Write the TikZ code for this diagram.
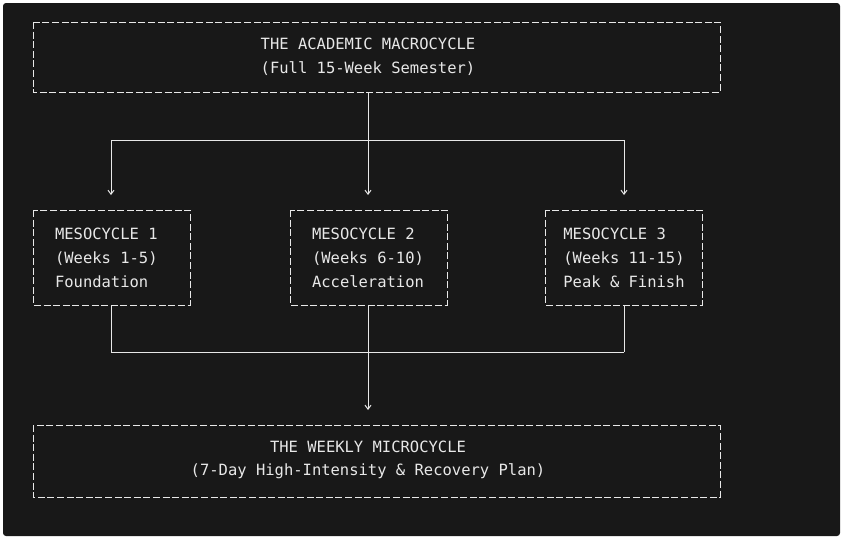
\documentclass[tikz,border=0pt]{standalone}
\usepackage{fontspec}
\setmonofont{DejaVu Sans Mono}
\usetikzlibrary{arrows.meta,positioning}
\definecolor{bg}{HTML}{181818}
\definecolor{ink}{HTML}{E8E8E8}
\tikzset{
  asciibox/.style={draw=ink, line width=1pt, dash pattern=on 7pt off 2.6pt, inner sep=0pt},
  txt/.style={text=ink, font=\ttfamily\fontsize{15.5pt}{23.8pt}\selectfont, align=center, inner sep=0pt},
  link/.style={draw=ink, line width=1pt},
  arr/.style={link, -{Straight Barb[length=4pt,width=6pt]}},
}
\begin{document}
\begin{tikzpicture}[x=1pt,y=-1pt]
\useasboundingbox (0,0) rectangle (844,538);
\fill[white] (0,0) rectangle (844,538);
\fill[bg, rounded corners=3pt] (3,3) rectangle (840,536);
% boxes
\draw[asciibox] (33,22) rectangle (720,92);
\node[txt] (macro) at (368,57) {THE ACADEMIC MACROCYCLE\\(Full 15-Week Semester)};
\draw[asciibox] (33,210) rectangle (190,305);
\node[txt, align=left] (meso1) at (111,258) {MESOCYCLE 1\\(Weeks 1-5)\\Foundation\phantom{xx}};
\draw[asciibox] (290,210) rectangle (447,305);
\node[txt, align=left] (meso2) at (368,258) {MESOCYCLE 2\\(Weeks 6-10)\\Acceleration};
\draw[asciibox] (545,210) rectangle (702,305);
\node[txt, align=left] (meso3) at (624,258) {MESOCYCLE 3\\(Weeks 11-15)\\Peak \& Finish};
\draw[asciibox] (33,425) rectangle (720,497);
\node[txt] (micro) at (368,460) {THE WEEKLY MICROCYCLE\\(7-Day High-Intensity \& Recovery Plan)};
% coordinates
\coordinate (topout) at (368,92);
\coordinate (split) at (368,140);
\coordinate (splitL) at (111,140);
\coordinate (splitR) at (624,140);
\coordinate (in1) at (111,195);
\coordinate (in2) at (368,195);
\coordinate (in3) at (624,195);
\coordinate (out1) at (111,305);
\coordinate (out2) at (368,305);
\coordinate (out3) at (624,305);
\coordinate (joinL) at (111,352);
\coordinate (join) at (368,352);
\coordinate (joinR) at (624,352);
\coordinate (botin) at (368,410);
% arrows
\draw[link] (topout) -- (split);
\draw[link] (splitL) -- (splitR);
\draw[arr] (splitL) -- (in1);
\draw[arr] (split) -- (in2);
\draw[arr] (splitR) -- (in3);
\draw[link] (out1) -- (joinL);
\draw[link] (out2) -- (join);
\draw[link] (out3) -- (joinR);
\draw[link] (joinL) -- (joinR);
\draw[arr] (join) -- (botin);
\end{tikzpicture}
\end{document}
